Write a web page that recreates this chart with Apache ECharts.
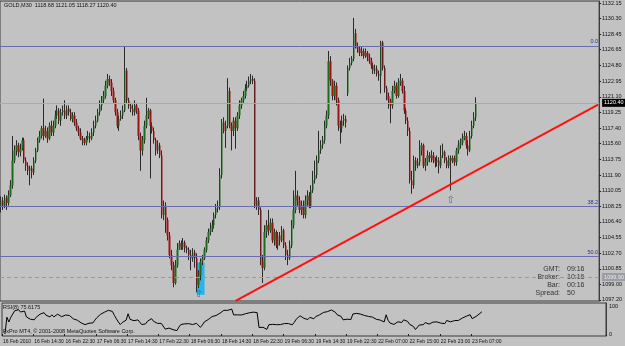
<!DOCTYPE html>
<html>
<head>
<meta charset="utf-8">
<script src="https://cdn.jsdelivr.net/npm/echarts@6/dist/echarts.min.js"></script>
<style>
html, body { margin: 0; padding: 0; background: #c2c2c2; }
#main { width: 625px; height: 346px; }
</style>
</head>
<body>
<div id="main"></div>
<script>
var chartDom = document.getElementById("main");
var myChart = echarts.init(chartDom);

// x axis tick labels, one every 16 bars (M30)
var timeLabels = ["16 Feb 2010", "16 Feb 14:30", "16 Feb 22:30", "17 Feb 06:30", "17 Feb 14:30",
  "17 Feb 22:30", "18 Feb 06:30", "18 Feb 14:30", "18 Feb 22:30", "19 Feb 06:30", "19 Feb 14:30",
  "19 Feb 22:30", "22 Feb 07:00", "22 Feb 15:00", "22 Feb 23:00", "23 Feb 07:00"];

// price scale labels
var priceTicks = [1132.15, 1130.30, 1128.45, 1126.65, 1124.80, 1122.95, 1121.10, 1119.25, 1117.40,
  1115.60, 1113.75, 1111.90, 1110.05, 1108.25, 1106.40, 1104.55, 1102.70, 1100.85, 1099.00, 1097.20];

// [open, close, low, high]
var candles = [
  [1108.3,1108.9,1107.5,1109.4],[1108.9,1108.3,1107.8,1109.3],[1108.3,1109.2,1108.0,1109.6],[1109.2,1108.6,1107.8,1109.5],
  [1108.6,1109.5,1108.3,1110.1],[1109.5,1110.7,1109.3,1111.3],[1110.7,1113.6,1110.3,1116.5],[1113.6,1114.8,1113.3,1115.4],
  [1114.8,1115.4,1114.2,1116.0],[1115.4,1114.6,1114.0,1115.7],[1114.6,1115.0,1114.1,1115.6],[1115.0,1116.0,1114.8,1116.3],
  [1116.0,1113.6,1113.3,1116.3],[1113.6,1113.0,1112.4,1114.0],[1113.0,1112.4,1111.9,1113.4],[1112.4,1112.7,1110.7,1113.0],
  [1112.7,1112.2,1111.5,1113.0],[1112.2,1113.6,1111.9,1114.0],[1113.6,1114.8,1113.3,1115.1],[1114.8,1116.0,1114.6,1116.3],
  [1116.0,1116.5,1115.7,1117.1],[1116.5,1117.4,1116.2,1117.7],[1117.4,1116.5,1116.0,1120.9],[1116.5,1117.1,1116.3,1117.7],
  [1117.1,1116.2,1115.7,1117.5],[1116.2,1117.7,1116.0,1118.1],[1117.7,1116.9,1116.5,1118.3],[1116.9,1117.7,1116.5,1118.3],
  [1117.7,1118.9,1117.4,1119.5],[1118.9,1119.5,1118.5,1120.1],[1119.5,1118.3,1117.9,1119.8],[1118.3,1119.3,1117.7,1119.7],
  [1119.3,1119.5,1118.9,1120.1],[1119.5,1118.9,1118.5,1120.7],[1118.9,1119.7,1118.5,1120.1],[1119.7,1119.3,1118.9,1120.1],
  [1119.3,1118.5,1118.3,1119.7],[1118.5,1118.9,1118.1,1119.3],[1118.9,1118.1,1117.7,1119.3],[1118.1,1117.4,1117.1,1118.5],
  [1117.4,1116.9,1116.5,1117.7],[1116.9,1116.2,1116.0,1117.4],[1116.2,1116.0,1115.4,1116.5],[1116.0,1115.7,1115.4,1116.3],
  [1115.7,1116.2,1115.4,1116.5],[1116.2,1116.5,1116.0,1117.1],[1116.5,1116.2,1115.7,1116.9],[1116.2,1116.9,1116.0,1117.4],
  [1116.9,1117.7,1116.5,1118.3],[1117.7,1118.3,1117.4,1118.9],[1118.3,1119.3,1118.1,1119.7],[1119.3,1120.1,1118.9,1120.7],
  [1120.1,1120.7,1119.5,1121.2],[1120.7,1121.2,1120.3,1121.8],[1121.2,1122.4,1120.9,1123.0],[1122.4,1123.2,1122.1,1123.8],
  [1123.2,1122.8,1122.4,1123.6],[1122.8,1121.8,1121.2,1123.2],[1121.8,1120.7,1120.4,1122.2],[1120.7,1119.3,1118.9,1121.0],
  [1119.3,1117.7,1117.4,1119.7],[1117.7,1118.5,1117.1,1118.9],[1118.5,1118.9,1118.3,1119.5],[1118.9,1119.5,1118.5,1120.1],
  [1119.5,1124.2,1119.3,1127.1],[1124.2,1120.7,1120.3,1124.5],[1120.7,1120.1,1119.7,1121.0],[1120.1,1119.7,1119.3,1120.4],
  [1119.7,1119.3,1118.9,1120.2],[1119.3,1120.1,1118.9,1120.7],[1120.1,1119.5,1119.1,1120.4],[1119.5,1116.5,1116.0,1119.8],
  [1116.5,1114.8,1112.4,1116.9],[1114.8,1116.0,1114.2,1116.5],[1116.0,1117.7,1115.6,1118.3],[1117.7,1118.9,1117.4,1121.0],
  [1118.9,1119.5,1118.5,1119.8],[1119.5,1117.7,1111.5,1119.7],[1117.7,1117.1,1116.8,1118.1],[1117.1,1116.0,1115.6,1117.5],
  [1116.0,1114.8,1114.2,1116.3],[1114.8,1115.4,1114.4,1116.0],[1115.4,1114.2,1113.9,1115.7],[1114.2,1107.2,1106.8,1114.8],
  [1107.2,1108.3,1106.6,1108.9],[1108.3,1106.6,1105.1,1108.7],[1106.6,1104.8,1104.2,1106.9],[1104.8,1102.5,1102.1,1105.2],
  [1102.5,1101.3,1100.7,1103.1],[1101.3,1099.2,1098.7,1101.7],[1099.2,1101.3,1099.0,1101.9],[1101.3,1103.1,1101.0,1103.9],
  [1103.1,1103.9,1103.1,1104.2],[1103.9,1103.4,1103.1,1104.2],[1103.4,1104.0,1103.1,1104.5],[1104.0,1103.3,1102.8,1104.2],
  [1103.3,1103.1,1102.7,1103.6],[1103.1,1102.5,1101.9,1103.4],[1102.5,1102.1,1100.7,1103.1],[1102.1,1102.8,1101.7,1103.3],
  [1102.8,1102.1,1101.0,1103.1],[1102.1,1099.0,1098.1,1102.7],[1099.0,1100.1,1098.6,1100.7],[1100.1,1101.7,1099.5,1102.1],
  [1101.7,1102.1,1101.3,1102.5],[1102.1,1103.1,1101.9,1103.4],[1103.1,1104.2,1102.8,1104.6],[1104.2,1105.2,1103.9,1105.6],
  [1105.2,1105.6,1104.8,1106.3],[1105.6,1106.0,1105.2,1106.6],[1106.0,1107.2,1105.6,1107.5],[1107.2,1108.0,1106.8,1108.5],
  [1108.0,1108.1,1107.5,1108.9],[1108.1,1111.9,1107.8,1112.7],[1111.9,1118.1,1111.5,1118.5],[1118.1,1117.1,1116.8,1118.7],
  [1117.1,1117.7,1115.1,1118.3],[1117.7,1121.8,1117.4,1123.3],[1121.8,1117.7,1117.4,1122.2],[1117.7,1117.1,1114.8,1118.1],
  [1117.1,1118.3,1116.5,1118.7],[1118.3,1117.4,1115.0,1118.7],[1117.4,1118.9,1117.1,1119.3],[1118.9,1120.1,1118.5,1120.7],
  [1120.1,1120.7,1119.7,1121.0],[1120.7,1121.2,1120.4,1121.8],[1121.2,1122.1,1120.9,1122.6],[1122.1,1122.4,1121.8,1123.0],
  [1122.4,1123.0,1122.2,1123.5],[1123.0,1123.2,1122.6,1123.8],[1123.2,1123.0,1122.6,1123.6],[1123.0,1108.3,1108.0,1123.3],
  [1108.3,1108.9,1107.8,1109.3],[1108.9,1107.8,1107.2,1109.3],[1107.8,1101.7,1101.3,1108.1],[1101.7,1101.0,1099.2,1102.5],
  [1101.0,1105.2,1100.7,1106.0],[1105.2,1106.0,1104.5,1106.6],[1106.0,1105.4,1104.8,1107.8],[1105.4,1106.3,1105.1,1106.8],
  [1106.3,1104.2,1103.9,1106.8],[1104.2,1105.2,1103.6,1105.6],[1105.2,1103.6,1103.3,1105.4],[1103.6,1104.8,1103.1,1105.2],
  [1104.8,1104.2,1103.6,1105.2],[1104.2,1105.4,1104.0,1105.9],[1105.4,1103.6,1103.3,1105.6],[1103.6,1102.5,1101.9,1104.0],
  [1102.5,1102.1,1101.3,1103.1],[1102.1,1103.6,1101.9,1104.2],[1103.6,1106.0,1103.3,1106.6],[1106.0,1107.8,1105.6,1110.1],
  [1107.8,1109.5,1107.4,1112.4],[1109.5,1108.9,1108.3,1110.1],[1108.9,1107.8,1107.4,1109.4],[1107.8,1108.3,1107.2,1108.9],
  [1108.3,1107.2,1106.8,1108.9],[1107.2,1108.9,1106.8,1109.5],[1108.9,1109.5,1108.3,1110.1],[1109.5,1108.3,1108.0,1109.9],
  [1108.3,1110.1,1108.0,1110.7],[1110.1,1111.3,1109.8,1112.4],[1111.3,1111.9,1110.9,1113.6],[1111.9,1113.6,1111.5,1114.2],
  [1113.6,1114.8,1113.3,1117.1],[1114.8,1115.4,1114.4,1116.0],[1115.4,1116.0,1115.0,1116.5],[1116.0,1117.7,1115.6,1118.3],
  [1117.7,1118.9,1117.4,1119.5],[1118.9,1125.3,1118.5,1126.5],[1125.3,1123.0,1122.4,1125.9],[1123.0,1121.2,1120.7,1123.2],
  [1121.2,1122.4,1120.7,1123.0],[1122.4,1120.7,1120.1,1122.8],[1120.7,1117.7,1117.1,1121.0],[1117.7,1117.4,1115.6,1118.3],
  [1117.4,1118.3,1116.9,1118.9],[1118.3,1118.5,1117.7,1119.1],[1118.5,1118.1,1117.5,1118.9],[1121.5,1124.5,1121.2,1124.8],
  [1124.5,1125.1,1124.2,1125.7],[1125.1,1125.6,1124.8,1125.9],[1125.6,1128.6,1125.3,1130.4],[1128.6,1127.1,1126.8,1129.1],
  [1127.1,1126.8,1126.3,1127.5],[1126.8,1126.3,1125.9,1127.1],[1126.3,1126.5,1125.9,1127.0],[1126.5,1125.9,1125.6,1126.8],
  [1125.9,1126.3,1125.7,1126.8],[1126.3,1125.8,1125.3,1126.5],[1125.8,1125.3,1125.0,1126.2],[1125.3,1124.8,1124.4,1125.7],
  [1124.8,1124.2,1123.8,1125.1],[1124.2,1124.4,1123.8,1124.9],[1124.4,1123.8,1123.5,1124.8],[1123.8,1123.6,1123.0,1124.2],
  [1123.6,1127.5,1121.5,1127.7],[1127.5,1124.5,1124.2,1127.7],[1124.5,1122.1,1121.6,1124.8],[1122.1,1121.2,1120.7,1122.4],
  [1121.2,1120.7,1119.7,1121.6],[1120.7,1120.1,1118.0,1120.9],[1120.1,1121.8,1119.7,1122.4],[1121.8,1122.4,1121.5,1123.0],
  [1122.4,1121.2,1120.9,1122.8],[1121.2,1122.8,1121.0,1123.3],[1122.8,1123.0,1122.4,1123.8],[1123.0,1121.8,1121.5,1123.3],
  [1121.8,1119.5,1119.1,1122.4],[1119.5,1118.3,1117.9,1119.8],[1118.3,1117.1,1116.5,1118.7],[1117.1,1111.3,1110.9,1117.5],
  [1111.3,1110.7,1109.7,1112.4],[1110.7,1113.6,1110.3,1114.2],[1113.6,1113.0,1112.4,1114.0],[1113.0,1113.4,1112.7,1113.9],
  [1113.4,1114.8,1113.0,1116.0],[1114.8,1115.4,1114.2,1115.7],[1115.4,1113.0,1112.7,1115.6],[1113.0,1113.4,1112.4,1113.9],
  [1113.4,1114.2,1113.0,1114.8],[1114.2,1113.9,1113.4,1114.6],[1113.9,1114.2,1113.4,1114.8],[1114.2,1113.6,1113.3,1114.6],
  [1113.6,1113.4,1112.8,1114.0],[1113.4,1113.6,1112.9,1114.2],[1113.6,1113.0,1112.1,1114.0],[1113.0,1114.2,1112.7,1115.4],
  [1114.2,1114.6,1113.9,1115.6],[1114.6,1113.6,1113.3,1114.8],[1113.6,1113.0,1112.7,1114.0],[1113.0,1113.9,1112.7,1114.2],
  [1113.9,1113.6,1110.1,1114.2],[1113.6,1113.9,1113.3,1114.2],[1113.9,1113.4,1113.0,1114.2],[1113.4,1114.8,1113.0,1115.1],
  [1114.8,1115.4,1114.4,1116.0],[1115.4,1115.7,1115.0,1116.2],[1115.7,1116.2,1115.4,1116.8],[1116.2,1116.5,1116.0,1117.1],
  [1116.5,1115.4,1115.0,1116.9],[1115.4,1114.8,1114.2,1116.0],[1114.8,1116.5,1114.6,1117.1],[1116.5,1117.7,1116.2,1118.3],
  [1117.7,1118.68,1117.4,1119.3],[1118.68,1120.40,1118.27,1121.05]
];

var fiboLevels = [["0.0", 1127.10], ["38.2", 1108.22], ["50.0", 1102.36]];
var bidPrice = 1120.40;
var dashedPrice = 1099.90;
var trendLine = [[121, 1097.1], [308, 1120.2]];
var arrows = [[232, 1108.9], [102, 1097.9]];
var highlightBox = [[101, 1101.6], [105, 1097.8]];
var slotCount = 309; // bars + empty space on the right

// one slot per bar, unique names so no label gets merged
var categories = [];
for (var i = 0; i < slotCount; i++) categories.push("b" + i);

// RSI(8) from the closes
function calcRsi(closes, n) {
  var out = ["-"];
  var ag = 0, al = 0;
  for (var i = 1; i < closes.length; i++) {
    var d = closes[i] - closes[i - 1];
    var g = d > 0 ? d : 0, l = d < 0 ? -d : 0;
    var k = Math.min(i, n);
    ag = (ag * (k - 1) + g) / k;
    al = (al * (k - 1) + l) / k;
    out.push(al === 0 ? 100 : +(100 - 100 / (1 + ag / al)).toFixed(2));
  }
  return out;
}
var closes = candles.map(function (c) { return c[1]; });
var rsiValues = calcRsi(closes, 8);

var font = "Liberation Sans";
var showLabel = function (idx) { return idx % 16 === 0 && idx / 16 < timeLabels.length; };

var option = {
  animation: false,
  backgroundColor: "#c2c2c2",
  grid: [
    { left: 0, top: 0, width: 606, height: 301, show: true, borderColor: "#3c3c3c", borderWidth: 1 },
    { left: 0, top: 303, width: 606, height: 33, show: true, borderColor: "#3c3c3c", borderWidth: 1 }
  ],
  xAxis: [
    { type: "category", gridIndex: 0, data: categories, axisLine: { show: false },
      axisTick: { show: false }, axisLabel: { show: false }, splitLine: { show: false } },
    { type: "category", gridIndex: 1, data: categories, axisLine: { show: false },
      axisTick: { show: true, interval: showLabel, length: 2, lineStyle: { color: "#222" } },
      axisLabel: { show: true, interval: showLabel, align: "left", margin: 3, hideOverlap: false,
        showMinLabel: true, showMaxLabel: true,
        fontSize: 5, fontFamily: font, color: "#111",
        formatter: function (v, idx) { return timeLabels[idx / 16] || ""; } },
      splitLine: { show: false } }
  ],
  yAxis: [
    { type: "value", gridIndex: 0, position: "right", min: 1097.08, max: 1132.38, scale: true,
      axisLine: { show: true, lineStyle: { color: "#3c3c3c" } },
      axisTick: { show: true, customValues: priceTicks, length: 2, lineStyle: { color: "#222" } },
      axisLabel: { customValues: priceTicks, margin: 3, fontSize: 5.5, fontFamily: font, color: "#111",
        formatter: function (v) { return v.toFixed(2); } },
      splitLine: { show: false } },
    { type: "value", gridIndex: 1, position: "right", min: -7.1, max: 110.7,
      axisLine: { show: true, lineStyle: { color: "#3c3c3c" } },
      axisTick: { show: false },
      axisLabel: { customValues: [0, 100], margin: 3, fontSize: 5.5, fontFamily: font, color: "#111" },
      splitLine: { show: false } }
  ],
  series: [
    {
      name: "wicks",
      type: "candlestick",
      xAxisIndex: 0, yAxisIndex: 0,
      barWidth: 1,
      data: candles,
      itemStyle: { color: "#2a2a2a", color0: "#2a2a2a", borderColor: "#2a2a2a", borderColor0: "#2a2a2a", borderWidth: 1 },
      markArea: {
        silent: true,
        itemStyle: { color: "#1fb4ee", opacity: 0.95 },
        data: [[{ xAxis: highlightBox[0][0], yAxis: highlightBox[0][1] },
                { xAxis: highlightBox[1][0], yAxis: highlightBox[1][1] }]]
      },
      markLine: {
        silent: true,
        symbol: "none",
        data: fiboLevels.map(function (f) {
          return { yAxis: f[1], lineStyle: { color: "#6b6bae", width: 1, type: "solid" },
            label: { show: true, position: "insideEndTop", formatter: f[0], distance: 1,
              fontSize: 5.5, fontFamily: font, color: "#2e2e9a" } };
        }).concat([
          { yAxis: bidPrice, lineStyle: { color: "#a4adaa", width: 1, type: "solid" },
            label: { show: true, position: "end", distance: 3, formatter: bidPrice.toFixed(2),
              fontSize: 5.5, fontFamily: font, color: "#fff", backgroundColor: "#000", padding: [1, 2] } },
          { yAxis: dashedPrice, lineStyle: { color: "#9a9a9a", width: 1, type: [4, 3] },
            label: { show: true, position: "end", distance: 3, formatter: dashedPrice.toFixed(2),
              fontSize: 5.5, fontFamily: font, color: "#e8e8e8", backgroundColor: "#9a9ea4", padding: [1, 2] } },
          [{ coord: trendLine[0], lineStyle: { color: "#ff1010", width: 2, type: "solid" }, label: { show: false } },
           { coord: trendLine[1] }]
        ])
      }
    },
    {
      name: "bodies",
      type: "candlestick",
      xAxisIndex: 0, yAxisIndex: 0,
      barWidth: 2,
      data: candles,
      itemStyle: { color: "#1f6a1f", color0: "#a01010", borderWidth: 0 }
    },
    {
      name: "arrows",
      type: "scatter",
      xAxisIndex: 0, yAxisIndex: 0,
      symbolSize: 0,
      data: arrows,
      label: { show: true, position: "inside", formatter: "\u21e7", fontSize: 10, fontFamily: "DejaVu Sans", color: "#3b4fb0" }
    },
    {
      name: "RSI",
      type: "line",
      xAxisIndex: 1, yAxisIndex: 1,
      data: rsiValues,
      symbol: "none",
      lineStyle: { color: "#000", width: 1 }
    }
  ],
  graphic: [
    { type: "text", left: 4, top: 2, style: { text: "GOLD,M30  1118.68 1121.05 1118.27 1120.40", font: "5.5px " + font, fill: "#111" } },
    { type: "text", left: 3, top: 304, style: { text: "RSI(8) 75.6175", font: "5.5px " + font, fill: "#111" } },
    { type: "text", left: 3, top: 328, style: { text: "FxPro MT4, \u00a9 2001-2008 MetaQuotes Software Corp.", font: "5.5px " + font, fill: "#111" } },
    { type: "text", x: 560, y: 269, style: { text: "GMT:", font: "7px " + font, fill: "#333", align: "right", verticalAlign: "middle" } },
    { type: "text", x: 560, y: 277, style: { text: "Broker:", font: "7px " + font, fill: "#333", align: "right", verticalAlign: "middle" } },
    { type: "text", x: 560, y: 285, style: { text: "Bar:", font: "7px " + font, fill: "#333", align: "right", verticalAlign: "middle" } },
    { type: "text", x: 560, y: 293, style: { text: "Spread:", font: "7px " + font, fill: "#333", align: "right", verticalAlign: "middle" } },
    { type: "text", x: 567, y: 269, style: { text: "09:16", font: "7px " + font, fill: "#333", verticalAlign: "middle" } },
    { type: "text", x: 567, y: 277, style: { text: "10:16", font: "7px " + font, fill: "#333", verticalAlign: "middle" } },
    { type: "text", x: 567, y: 285, style: { text: "00:16", font: "7px " + font, fill: "#333", verticalAlign: "middle" } },
    { type: "text", x: 567, y: 293, style: { text: "50", font: "7px " + font, fill: "#333", verticalAlign: "middle" } }
  ]
};

option && myChart.setOption(option);
</script>
</body>
</html>
